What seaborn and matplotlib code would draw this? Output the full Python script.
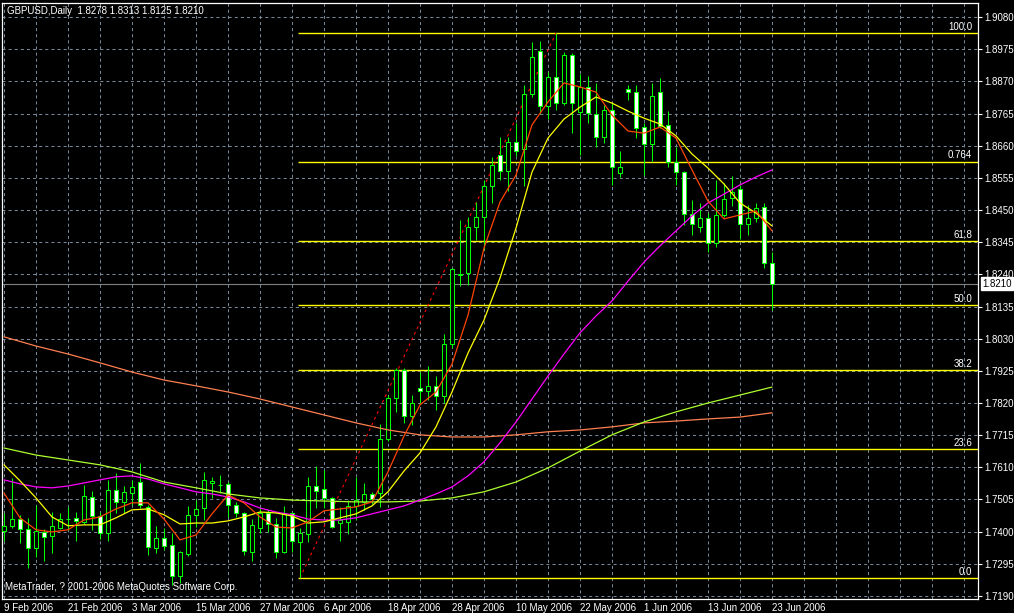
import matplotlib
matplotlib.use("Agg")
import matplotlib.pyplot as plt
import matplotlib.transforms as mtransforms
import numpy as np
import pandas as pd
import seaborn as sns

# GBPUSD daily bars, 9 Feb 2006 .. 23 Jun 2006 (97 business days)
opens = [1.7402, 1.7419, 1.7441, 1.7409, 1.7347, 1.7399, 1.7386, 1.7412, 1.7441, 1.7445,
         1.7432, 1.7513, 1.7451, 1.7396, 1.7536, 1.7497, 1.7526, 1.7562, 1.7481, 1.7347,
         1.7379, 1.7357, 1.7255, 1.7327, 1.7455, 1.7477, 1.7559, 1.7552, 1.7556, 1.7487,
         1.7461, 1.7334, 1.7412, 1.7461, 1.7425, 1.7334, 1.7461, 1.7366, 1.7392, 1.7549,
         1.7539, 1.7510, 1.7428, 1.7432, 1.7484, 1.7497, 1.7523, 1.7526, 1.7703, 1.7836,
         1.7928, 1.7778, 1.7869, 1.7859, 1.7876, 1.7843, 1.8013, 1.8238, 1.8244, 1.8395,
         1.8427, 1.8528, 1.8630, 1.8577, 1.8672, 1.8649, 1.8829, 1.8969, 1.8790, 1.8884,
         1.8799, 1.8956, 1.8770, 1.8852, 1.8763, 1.8688, 1.8776, 1.8571, 1.8845, 1.8835,
         1.8721, 1.8665, 1.8835, 1.8728, 1.8607, 1.8574, 1.8437, 1.8395, 1.8424, 1.8342,
         1.8434, 1.8489, 1.8519, 1.8404, 1.8424, 1.8460, 1.8278]
highs = [1.7461, 1.7575, 1.7455, 1.7445, 1.7487, 1.7409, 1.7464, 1.7461, 1.7481, 1.7464,
         1.7552, 1.7533, 1.7464, 1.7569, 1.7592, 1.7549, 1.7569, 1.7624, 1.7487, 1.7419,
         1.7412, 1.7396, 1.7337, 1.7484, 1.7503, 1.7595, 1.7579, 1.7585, 1.7562, 1.7497,
         1.7464, 1.7441, 1.7481, 1.7471, 1.7445, 1.7484, 1.7464, 1.7412, 1.7579, 1.7614,
         1.7601, 1.7513, 1.7481, 1.7503, 1.7579, 1.7559, 1.7530, 1.7752, 1.7846, 1.7934,
         1.7934, 1.7846, 1.7921, 1.7941, 1.7908, 1.8045, 1.8261, 1.8417, 1.8427, 1.8476,
         1.8548, 1.8623, 1.8688, 1.8688, 1.8734, 1.8858, 1.8998, 1.9002, 1.8900, 1.9028,
         1.8966, 1.8963, 1.8894, 1.8887, 1.8865, 1.8793, 1.8799, 1.8643, 1.8858, 1.8858,
         1.8734, 1.8865, 1.8881, 1.8773, 1.8656, 1.8577, 1.8483, 1.8473, 1.8440, 1.8548,
         1.8538, 1.8561, 1.8532, 1.8466, 1.8473, 1.8473, 1.8313]
lows = [1.7370, 1.7412, 1.7363, 1.7282, 1.7317, 1.7304, 1.7330, 1.7409, 1.7406, 1.7370,
        1.7425, 1.7406, 1.7376, 1.7370, 1.7461, 1.7461, 1.7487, 1.7477, 1.7324, 1.7330,
        1.7340, 1.7226, 1.7233, 1.7321, 1.7415, 1.7438, 1.7510, 1.7526, 1.7448, 1.7448,
        1.7324, 1.7304, 1.7396, 1.7399, 1.7314, 1.7330, 1.7334, 1.7249, 1.7366, 1.7477,
        1.7477, 1.7412, 1.7370, 1.7392, 1.7438, 1.7471, 1.7490, 1.7481, 1.7696, 1.7791,
        1.7755, 1.7748, 1.7820, 1.7830, 1.7797, 1.7820, 1.8000, 1.8202, 1.8205, 1.8352,
        1.8320, 1.8473, 1.8548, 1.8512, 1.8626, 1.8528, 1.8819, 1.8763, 1.8747, 1.8776,
        1.8793, 1.8701, 1.8630, 1.8734, 1.8656, 1.8669, 1.8532, 1.8558, 1.8809, 1.8685,
        1.8564, 1.8610, 1.8718, 1.8590, 1.8532, 1.8401, 1.8369, 1.8378, 1.8313, 1.8329,
        1.8427, 1.8463, 1.8355, 1.8369, 1.8411, 1.8261, 1.8125]
closes = [1.7419, 1.7441, 1.7409, 1.7347, 1.7402, 1.7383, 1.7419, 1.7441, 1.7440, 1.7435,
          1.7517, 1.7451, 1.7396, 1.7536, 1.7497, 1.7530, 1.7546, 1.7487, 1.7350, 1.7379,
          1.7353, 1.7255, 1.7334, 1.7455, 1.7474, 1.7569, 1.7566, 1.7551, 1.7487, 1.7461,
          1.7337, 1.7422, 1.7461, 1.7425, 1.7334, 1.7461, 1.7370, 1.7396, 1.7549, 1.7533,
          1.7510, 1.7415, 1.7438, 1.7484, 1.7503, 1.7523, 1.7507, 1.7703, 1.7836, 1.7928,
          1.7778, 1.7820, 1.7859, 1.7876, 1.7843, 1.8013, 1.8257, 1.8241, 1.8395, 1.8427,
          1.8528, 1.8597, 1.8577, 1.8672, 1.8643, 1.8829, 1.8949, 1.8790, 1.8884, 1.8799,
          1.8956, 1.8799, 1.8852, 1.8767, 1.8688, 1.8776, 1.8590, 1.8590, 1.8835, 1.8718,
          1.8665, 1.8822, 1.8724, 1.8607, 1.8574, 1.8437, 1.8404, 1.8424, 1.8342, 1.8434,
          1.8486, 1.8509, 1.8404, 1.8424, 1.8457, 1.8278, 1.8210]

# moving averages (bar index, price)
ma_fast_bars = list(range(0, 97, 2))
ma_fast = [1.7526, 1.7445, 1.7406, 1.7399, 1.7406, 1.7438, 1.7448, 1.7474, 1.7494, 1.7494,
           1.7441, 1.7373, 1.7389, 1.7458, 1.7520, 1.7494, 1.7448, 1.7415, 1.7412, 1.7432,
           1.7468, 1.7474, 1.7481, 1.7497, 1.7595, 1.7712, 1.7814, 1.7856, 1.7947, 1.8107,
           1.8326, 1.8476, 1.8564, 1.8728, 1.8803, 1.8865, 1.8852, 1.8835, 1.8760, 1.8708,
           1.8701, 1.8721, 1.8685, 1.8581, 1.8479, 1.8421, 1.8434, 1.8447, 1.8382]
ma_mid_bars = list(range(0, 97, 2))
ma_mid = [1.7618, 1.7566, 1.7510, 1.7448, 1.7419, 1.7422, 1.7422, 1.7445, 1.7471, 1.7474,
          1.7455, 1.7425, 1.7428, 1.7428, 1.7435, 1.7448, 1.7464, 1.7461, 1.7451, 1.7428,
          1.7432, 1.7445, 1.7458, 1.7484, 1.7530, 1.7598, 1.7657, 1.7742, 1.7856, 1.7983,
          1.8091, 1.8228, 1.8391, 1.8574, 1.8685, 1.8747, 1.8786, 1.8819, 1.8799, 1.8773,
          1.8750, 1.8731, 1.8692, 1.8633, 1.8587, 1.8535, 1.8473, 1.8440, 1.8398]
ma_50_bars = list(range(0, 97, 2))
ma_50 = [1.7569, 1.7556, 1.7546, 1.7543, 1.7549, 1.7559, 1.7569, 1.7579, 1.7582, 1.7572,
         1.7556, 1.7543, 1.7530, 1.7523, 1.7513, 1.7497, 1.7477, 1.7464, 1.7455, 1.7441,
         1.7438, 1.7438, 1.7445, 1.7458, 1.7471, 1.7484, 1.7503, 1.7523, 1.7546, 1.7582,
         1.7628, 1.7690, 1.7758, 1.7833, 1.7908, 1.7980, 1.8049, 1.8104, 1.8153, 1.8218,
         1.8280, 1.8333, 1.8382, 1.8431, 1.8473, 1.8502, 1.8532, 1.8558, 1.8581]
ma_100_bars = list(range(0, 97, 4))
ma_100 = [1.7673, 1.7650, 1.7634, 1.7618, 1.7595, 1.7562, 1.7543, 1.7523, 1.7510, 1.7503,
          1.7500, 1.7497, 1.7497, 1.7500, 1.7510, 1.7530, 1.7562, 1.7608, 1.7663, 1.7716,
          1.7758, 1.7791, 1.7820, 1.7846, 1.7872]
ma_200_bars = list(range(0, 97, 4))
ma_200 = [1.8036, 1.8006, 1.7980, 1.7951, 1.7921, 1.7895, 1.7876, 1.7856, 1.7833, 1.7807,
          1.7781, 1.7755, 1.7732, 1.7716, 1.7709, 1.7709, 1.7716, 1.7726, 1.7732, 1.7742,
          1.7755, 1.7761, 1.7768, 1.7774, 1.7788]

# fibonacci retracement drawn from the 29 Mar low to the 12 May high
fib_start_bar, fib_end_bar = 37, 69
fib_low, fib_high = 1.7249, 1.9028
fib_ratios = [1.0, 0.764, 0.618, 0.5, 0.382, 0.236, 0.0]
fib_labels = ["100.0", "0.764", "61.8", "50.0", "38.2", "23.6", "0.0"]

price_ticks = [1.7190 + 0.0105 * k for k in range(19)]
date_tick_bars = list(range(0, 97, 8))
date_labels = ["9 Feb 2006", "21 Feb 2006", "3 Mar 2006", "15 Mar 2006", "27 Mar 2006",
               "6 Apr 2006", "18 Apr 2006", "28 Apr 2006", "10 May 2006", "22 May 2006",
               "1 Jun 2006", "13 Jun 2006", "23 Jun 2006"]
last_price = 1.8210
title = "GBPUSD,Daily  1.8278 1.8313 1.8125 1.8210"

sns.set_style("dark", {"axes.facecolor": "black", "figure.facecolor": "black",
                       "axes.edgecolor": "white", "text.color": "white",
                       "xtick.color": "white", "ytick.color": "white"})
plt.rcParams["font.family"] = ["Liberation Sans", "DejaVu Sans"]
plt.rcParams["lines.scale_dashes"] = False
fs = 7.0

fig = plt.figure(figsize=(10.14, 6.13), dpi=100, facecolor="black")
W, H = 1014, 613
ax = fig.add_axes([2 / W, (H - 599) / H, 976 / W, 596 / H])
ax.set_facecolor("black")

df = pd.DataFrame({"open": opens, "high": highs, "low": lows, "close": closes})
df["bar"] = np.arange(len(df))
bull = df["close"] >= df["open"]

# grid
grid_kw = dict(color="#778899", lw=0.72, ls=(0, (2.2, 2.2)), zorder=0)
for p in price_ticks:
    ax.axhline(p, **grid_kw)
for b in range(0, 122, 4):
    ax.axvline(b, **grid_kw)

# fibonacci levels and trend line
for r, lab in zip(fib_ratios, fib_labels):
    lvl = fib_low + r * (fib_high - fib_low)
    ax.hlines(lvl, fib_start_bar - 0.25, 122, color="#FFFF00", lw=1.0, zorder=1)
    ax.text(121.0, lvl + 0.0004, lab, ha="right", va="bottom", fontsize=fs, color="white",
            zorder=6)
ax.plot([fib_start_bar, fib_end_bar], [fib_low, fib_high], color="#FF0000", lw=0.8,
        ls=(0, (2, 2.5)), zorder=2)

# current price line
ax.axhline(last_price, color="#808080", lw=0.8, zorder=1)

# candles
green = "#00FF00"
ax.vlines(df["bar"], df["low"], df["high"], color=green, lw=0.75, zorder=3)
body_bottom = np.minimum(df["open"], df["close"])
body_height = np.abs(df["close"] - df["open"])
ax.bar(df["bar"], body_height, bottom=body_bottom, width=0.55,
       color=np.where(bull, "black", "white"), edgecolor=green, linewidth=0.75, zorder=4)

# moving averages
for xs, ys, col in [(ma_200_bars, ma_200, "#FF7F50"), (ma_100_bars, ma_100, "#ADFF2F"),
                    (ma_50_bars, ma_50, "#FF00FF"), (ma_mid_bars, ma_mid, "#FFFF00"),
                    (ma_fast_bars, ma_fast, "#FF4500")]:
    sns.lineplot(x=xs, y=ys, ax=ax, color=col, lw=0.9, estimator=None, zorder=5)

ax.set_xlim(-0.25, 121.75)
ax.set_ylim(1.7180, 1.9126)

ax.yaxis.tick_right()
ax.set_yticks(price_ticks)
ax.set_yticklabels([f"{p:.4f}" for p in price_ticks], fontsize=fs)
ax.set_xticks(date_tick_bars)
ax.set_xticklabels(date_labels, fontsize=fs, ha="left")
ax.tick_params(axis="y", length=3, width=0.8, pad=1.5, colors="white")
ax.tick_params(axis="x", length=2.5, width=0.8, pad=0.3, colors="white")
ax.set_xlabel("")
ax.set_ylabel("")
ax.grid(False)
for s in ax.spines.values():
    s.set_color("white")
    s.set_linewidth(0.9)

# current price box on the axis
trans = mtransforms.blended_transform_factory(ax.transAxes, ax.transData)
ax.text(1.0045, last_price, f"{last_price:.4f}", transform=trans, ha="left", va="center",
        fontsize=fs, color="black", zorder=10, clip_on=False,
        bbox=dict(facecolor="white", edgecolor="white", boxstyle="square,pad=0.15"))

ax.text(0.005, 0.987, title, transform=ax.transAxes, ha="left", va="center", fontsize=fs,
        color="white")
ax.text(0.003, 0.020, "MetaTrader, ? 2001-2006 MetaQuotes Software Corp.",
        transform=ax.transAxes, ha="left", va="center", fontsize=fs, color="white")

fig.savefig("out.png", dpi=100, facecolor="black")
